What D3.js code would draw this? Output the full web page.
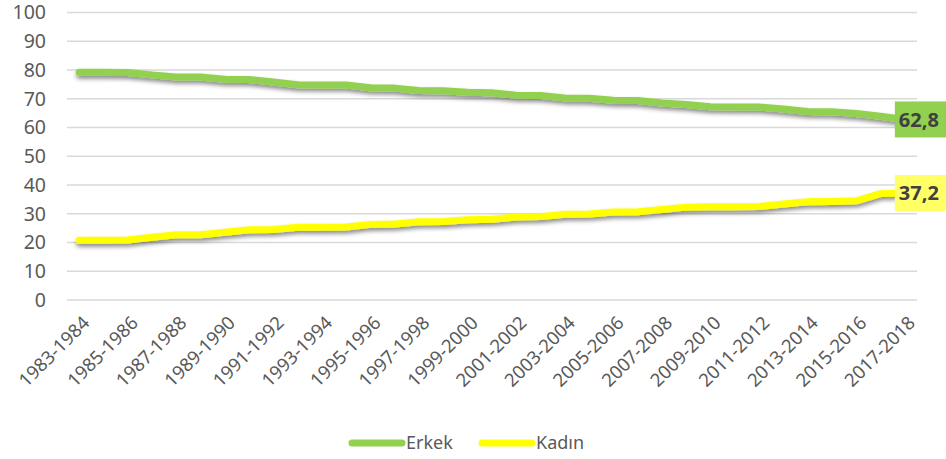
<!DOCTYPE html>
<html>
<head>
<meta charset="utf-8">
<script src="https://cdn.jsdelivr.net/npm/d3@7"></script>
<style>
  body { margin: 0; background: #fff; }
  text { font-family: "Noto Sans", sans-serif; }
</style>
</head>
<body>
<div id="chart"></div>
<script>

const categories = [
  "1983-1984","1984-1985","1985-1986","1986-1987","1987-1988","1988-1989","1989-1990",
  "1990-1991","1991-1992","1992-1993","1993-1994","1994-1995","1995-1996","1996-1997",
  "1997-1998","1998-1999","1999-2000","2000-2001","2001-2002","2002-2003","2003-2004",
  "2004-2005","2005-2006","2006-2007","2007-2008","2008-2009","2009-2010","2010-2011",
  "2011-2012","2012-2013","2013-2014","2014-2015","2015-2016","2016-2017","2017-2018"
];

const erkek = [
  79.2, 79.2, 79.1, 78.3, 77.6, 77.6, 76.8, 76.7, 75.8, 74.9, 74.8, 74.8,
  73.8, 73.7, 72.9, 72.8, 72.3, 72.1, 71.2, 71.1, 70.3, 70.2, 69.5, 69.4,
  68.5, 68.0, 67.2, 67.1, 67.1, 66.4, 65.6, 65.5, 64.9, 63.9, 62.8
];

const kadin = [
  20.8, 20.8, 20.9, 21.8, 22.7, 22.7, 23.6, 24.4, 24.5, 25.3, 25.3, 25.4,
  26.3, 26.4, 27.2, 27.3, 27.9, 28.1, 28.9, 29.0, 29.8, 29.9, 30.6, 30.7,
  31.5, 32.3, 32.4, 32.4, 32.5, 33.4, 34.2, 34.3, 34.5, 37.0, 37.2
];

const yTicks = [0, 10, 20, 30, 40, 50, 60, 70, 80, 90, 100];

const series = [
  { name: "Erkek", values: erkek, color: "#92D050", box: "#92D050" },
  { name: "Kadın", values: kadin, color: "#FFFF00", box: "#FFFF66" }
];

const width = 946, height = 459;
const margin = { top: 12.5, right: 29, bottom: 159, left: 67 };

const svg = d3.select("#chart")
  .append("svg")
  .attr("width", width)
  .attr("height", height);

const defs = svg.append("defs");
const shadow = defs.append("filter")
  .attr("id", "shadow")
  .attr("x", "-5%").attr("y", "-40%")
  .attr("width", "110%").attr("height", "180%");
shadow.append("feDropShadow")
  .attr("dx", 0.5)
  .attr("dy", 3)
  .attr("stdDeviation", 2)
  .attr("flood-color", "#000")
  .attr("flood-opacity", 0.45);

const xScale = d3.scalePoint()
  .domain(categories)
  .range([margin.left, width - margin.right])
  .padding(0.5);

const yScale = d3.scaleLinear()
  .domain([0, 100])
  .range([height - margin.bottom, margin.top]);

// gridlines
svg.append("g")
  .attr("class", "grid")
  .selectAll("line")
  .data(yTicks)
  .join("line")
  .attr("x1", margin.left)
  .attr("x2", width - margin.right)
  .attr("y1", d => yScale(d))
  .attr("y2", d => yScale(d))
  .attr("stroke", "#D9D9D9")
  .attr("stroke-width", 1.5);

// y axis labels
const yAxis = svg.append("g")
  .attr("class", "y-axis")
  .attr("transform", `translate(${margin.left - 21},0)`)
  .call(d3.axisLeft(yScale).tickValues(yTicks).tickSize(0).tickPadding(0));
yAxis.select(".domain").remove();
yAxis.selectAll(".tick text")
  .style("font-size", "19.5px")
  .style("font-family", "Noto Sans")
  .attr("fill", "#595959");

// x axis labels, every second period
const xAxis = svg.append("g")
  .attr("class", "x-axis")
  .attr("transform", `translate(0,${height - margin.bottom})`)
  .call(d3.axisBottom(xScale)
    .tickValues(categories.filter((d, i) => i % 2 == 0))
    .tickSize(0));
xAxis.select(".domain").remove();
xAxis.selectAll(".tick text")
  .style("font-size", "18.5px")
  .style("font-family", "Noto Sans")
  .attr("fill", "#595959")
  .attr("text-anchor", "end")
  .attr("dy", 0)
  .attr("y", 0)
  .attr("transform", "translate(11,24) rotate(-45)");

const line = d3.line()
  .x((d, i) => xScale(categories[i]))
  .y(d => yScale(d));

svg.append("g")
  .attr("class", "lines")
  .selectAll("path")
  .data(series)
  .join("path")
  .attr("fill", "none")
  .attr("stroke", d => d.color)
  .attr("stroke-width", 7)
  .attr("stroke-linecap", "round")
  .attr("stroke-linejoin", "round")
  .attr("filter", "url(#shadow)")
  .attr("d", d => line(d.values));

// end labels
const last = categories.length - 1;
const labels = svg.append("g")
  .attr("class", "end-labels")
  .selectAll("g")
  .data(series)
  .join("g")
  .attr("transform", d => `translate(${xScale(categories[last]) - 10},${yScale(d.values[last])})`);

labels.append("rect")
  .attr("x", 0)
  .attr("y", -18)
  .attr("width", 52)
  .attr("height", 36)
  .attr("fill", d => d.box);

labels.append("text")
  .attr("x", 4)
  .attr("y", 0)
  .attr("dy", "0.36em")
  .attr("fill", "#404040")
  .style("font-size", "20px")
  .style("font-weight", "bold")
  .text(d => d.values[last].toFixed(1).replace(".", ","));

// legend
const legend = svg.append("g")
  .attr("class", "legend")
  .attr("transform", "translate(352,443)");

const item = legend.selectAll("g")
  .data(series)
  .join("g")
  .attr("transform", (d, i) => `translate(${i * 130},0)`);

item.append("line")
  .attr("x1", 0)
  .attr("x2", 50)
  .attr("stroke", d => d.color)
  .attr("stroke-width", 7)
  .attr("stroke-linecap", "round");

item.append("text")
  .attr("x", 54)
  .attr("dy", "0.35em")
  .attr("fill", "#595959")
  .style("font-size", "18px")
  .text(d => d.name);

</script>
</body>
</html>
